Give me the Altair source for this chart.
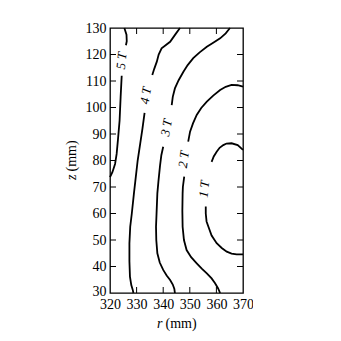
import altair as alt
import pandas as pd

# contour segments (r in mm, z in mm); each contour split where its label sits
c5a_r = [325.4, 326.2, 326.3, 326.0]
c5a_z = [130.0, 127.5, 125.0, 123.5]
c5b_r = [324.4, 324.0, 323.6, 323.0, 322.5, 321.9, 320.9, 320.0]
c5b_z = [112.0, 104.0, 95.0, 88.0, 82.5, 78.7, 75.6, 73.7]

c4a_r = [346.3, 344.5, 342.6, 339.4, 338.3, 337.6, 336.6, 335.9]
c4a_z = [130.0, 127.5, 124.8, 122.3, 120.0, 117.3, 114.5, 112.3]
c4b_r = [333.0, 332.2, 331.3, 330.4, 329.5, 329.0, 328.2, 327.6, 327.3, 327.3, 327.5, 328.0, 328.6, 328.8]
c4b_z = [98.0, 92.0, 86.0, 80.0, 72.0, 67.6, 60.0, 55.0, 48.8, 42.0, 36.2, 33.0, 31.0, 30.0]

c3a_r = [365.1, 363.5, 361.4, 358.8, 356.4, 353.7, 351.3, 349.2, 347.6, 345.8, 344.4, 343.6, 343.2]
c3a_z = [130.0, 128.0, 126.1, 124.4, 122.9, 120.8, 118.6, 116.0, 113.5, 110.3, 107.2, 104.0, 100.9]
c3b_r = [340.0, 339.3, 338.8, 338.2, 337.8, 337.5, 337.3, 337.4, 337.8, 338.7, 340.0, 341.3, 342.6, 343.6, 344.2, 344.4]
c3b_z = [85.2, 82.0, 78.0, 72.0, 67.6, 60.0, 55.0, 50.0, 45.0, 41.5, 38.7, 36.6, 34.9, 33.2, 31.5, 30.0]

c2a_r = [370.0, 368.0, 365.7, 363.5, 361.4, 358.8, 356.4, 354.3, 352.6, 351.2, 350.1, 349.4]
c2a_z = [107.9, 108.4, 108.5, 107.8, 106.6, 104.5, 102.2, 99.8, 97.2, 94.0, 90.9, 87.1]
c2b_r = [347.9, 347.4, 347.3, 347.2, 347.3, 347.8, 348.8, 350.5, 352.6, 354.5, 356.4, 358.2, 359.5, 360.6, 361.4]
c2b_z = [73.9, 70.0, 67.6, 61.0, 55.0, 50.0, 46.2, 43.5, 41.2, 39.2, 37.4, 35.5, 33.7, 31.8, 30.0]

c1a_r = [370.0, 368.0, 365.7, 363.8, 362.6, 361.2, 360.1, 359.0, 358.2]
c1a_z = [84.0, 85.8, 86.5, 86.4, 85.8, 84.8, 83.3, 81.5, 79.5]
c1b_r = [356.0, 356.0, 356.3, 357.0, 358.2, 360.1, 362.0, 363.9, 365.7, 367.6, 370.0]
c1b_z = [62.6, 60.0, 57.0, 55.0, 51.7, 48.8, 47.0, 45.6, 44.9, 44.6, 44.6]

# contour labels
lab_text = ["5 T", "4 T", "3 T", "2 T", "1 T"]
lab_r = [324.4, 333.5, 341.3, 347.8, 355.5]
lab_z = [117.6, 104.5, 92.4, 80.4, 69.2]
lab_angle = [277, 280, 281, 278, 276]

x_ticks = [320, 330, 340, 350, 360, 370]
y_ticks = [30, 40, 50, 60, 70, 80, 90, 100, 110, 120, 130]

x_title = ["r", "(mm)"]
y_title = ["z", "(mm)"]

segments = {
    "5a": (c5a_r, c5a_z), "5b": (c5b_r, c5b_z),
    "4a": (c4a_r, c4a_z), "4b": (c4b_r, c4b_z),
    "3a": (c3a_r, c3a_z), "3b": (c3b_r, c3b_z),
    "2a": (c2a_r, c2a_z), "2b": (c2b_r, c2b_z),
    "1a": (c1a_r, c1a_z), "1b": (c1b_r, c1b_z),
}
rows = []
for name, (rs, zs) in segments.items():
    for i, (r, z) in enumerate(zip(rs, zs)):
        rows.append({"seg": name, "i": i, "r": r, "z": z})
lines_df = pd.DataFrame(rows)

W, H = 133, 265
FONT = "Liberation Serif"
TL = 6

xscale = alt.Scale(domain=[320, 370], nice=False, zero=False)
yscale = alt.Scale(domain=[30, 130], nice=False, zero=False)

xaxis = alt.Axis(values=x_ticks, ticks=False, domain=False, grid=False, labelPadding=4,
                 labelOverlap=False, labelFlush=False, labelFont=FONT, labelFontSize=14,
                 labelColor="black", title=None)
yaxis = alt.Axis(values=y_ticks, ticks=False, domain=False, grid=False, labelPadding=4,
                 labelOverlap=False, labelFlush=False, labelFont=FONT, labelFontSize=14,
                 labelColor="black", title=None,
                 labelOffset={"condition": {"test": "datum.value == 30", "value": -2}, "value": 0})

X = alt.X("r:Q", scale=xscale, axis=xaxis)
Y = alt.Y("z:Q", scale=yscale, axis=yaxis)

lines = alt.Chart(lines_df).mark_line(color="black", strokeWidth=1.8).encode(
    x=X, y=Y, detail="seg:N", order="i:Q",
)

layers = [lines]
for t, r, z, a in zip(lab_text, lab_r, lab_z, lab_angle):
    d = pd.DataFrame({"r": [r], "z": [z], "t": [t]})
    layers.append(
        alt.Chart(d).mark_text(angle=a, font=FONT, fontSize=13, fontStyle="italic",
                               color="black", align="center", baseline="middle").encode(
            x=X, y=Y, text="t:N",
        )
    )

xt = pd.DataFrame({"r": x_ticks[1:-1]})
yt = pd.DataFrame({"z": y_ticks[1:-1]})
layers.append(alt.Chart(xt).mark_rule(color="black", strokeWidth=1).encode(
    x=X, y=alt.value(H), y2=alt.value(H - TL)))
layers.append(alt.Chart(xt).mark_rule(color="black", strokeWidth=1).encode(
    x=X, y=alt.value(0), y2=alt.value(TL)))
layers.append(alt.Chart(yt).mark_rule(color="black", strokeWidth=1).encode(
    y=Y, x=alt.value(0), x2=alt.value(TL)))
layers.append(alt.Chart(yt).mark_rule(color="black", strokeWidth=1).encode(
    y=Y, x=alt.value(W), x2=alt.value(W - TL)))

# axis titles: italic symbol + upright unit
tx = W / 2
layers.append(alt.Chart(pd.DataFrame({"t": [x_title[0]]})).mark_text(
    font=FONT, fontSize=14, fontStyle="italic", color="black", align="right", baseline="middle"
).encode(x=alt.value(tx - 14), y=alt.value(H + 31), text="t:N"))
layers.append(alt.Chart(pd.DataFrame({"t": [x_title[1]]})).mark_text(
    font=FONT, fontSize=14, color="black", align="left", baseline="middle"
).encode(x=alt.value(tx - 11), y=alt.value(H + 31), text="t:N"))
ty = H / 2
layers.append(alt.Chart(pd.DataFrame({"t": [y_title[0]]})).mark_text(
    font=FONT, fontSize=14, fontStyle="italic", color="black", angle=270, align="right",
    baseline="middle"
).encode(x=alt.value(-38), y=alt.value(ty + 14), text="t:N"))
layers.append(alt.Chart(pd.DataFrame({"t": [y_title[1]]})).mark_text(
    font=FONT, fontSize=14, color="black", angle=270, align="left", baseline="middle"
).encode(x=alt.value(-38), y=alt.value(ty + 11), text="t:N"))

chart = alt.layer(*layers).properties(
    width=W, height=H,
    background="white",
    padding={"left": 102, "top": 20, "right": 10, "bottom": 40},
    autosize=alt.AutoSizeParams(type="none"),
).configure_view(stroke="black", strokeWidth=1.3)

chart.save("out.html", embed_options={"renderer": "svg", "actions": False})
